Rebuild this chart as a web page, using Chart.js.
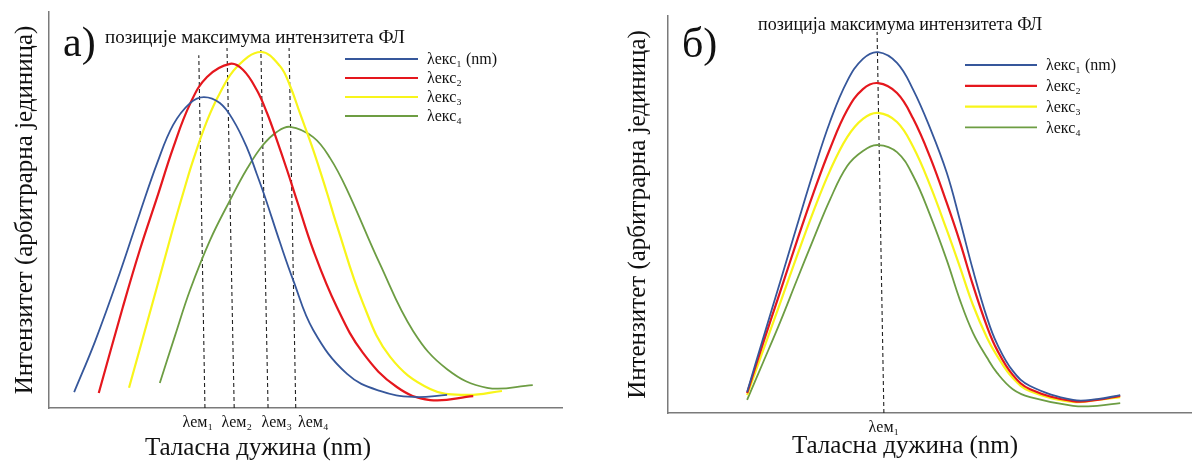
<!DOCTYPE html>
<html>
<head>
<meta charset="UTF-8">
<title>Позиције максимума интензитета ФЛ</title>
<script src="https://cdn.jsdelivr.net/npm/chart.js"></script>
<style>
  body { margin: 0; background: #fff; }
  .panel { position: absolute; top: 0; width: 596px; height: 461px; }
</style>
</head>
<body>
<div class="panel" style="left:0"><canvas id="chartA" width="596" height="461"></canvas></div>
<div class="panel" style="left:596px"><canvas id="chartB" width="596" height="461"></canvas></div>

<script>
// ---- подаци (а): емисионе криве помјерене са ексцитацијом ----
const xA1 = [4.9, 9.0, 13.8, 17.7, 21.1, 24.2, 27.5, 30.2, 33.3, 35.9, 38.6, 40.5, 42.1, 45.0, 47.6, 51.5, 58.1, 64.5, 71.0, 77.6];
const yA1 = [4.0, 16.9, 34.1, 49.2, 61.9, 71.5, 77.0, 78.5, 77.0, 72.7, 65.7, 59.1, 53.3, 41.9, 32.3, 19.7, 8.6, 4.3, 2.8, 3.3];
const xA2 = [9.7, 14.4, 17.7, 21.1, 24.2, 27.5, 30.8, 35.3, 37.8, 40.5, 42.5, 44.4, 46.4, 48.3, 51.5, 56.1, 61.2, 67.8, 74.3, 82.7];
const yA2 = [3.8, 25.5, 39.9, 53.3, 65.7, 76.8, 83.6, 86.9, 85.4, 80.3, 74.5, 67.7, 60.1, 52.5, 39.9, 25.5, 13.9, 5.3, 2.0, 3.0];
const xA3 = [15.6, 21.1, 24.2, 26.5, 28.1, 30.8, 33.3, 36.6, 41.3, 45.0, 47.0, 48.9, 51.5, 54.2, 56.1, 61.2, 66.5, 74.3, 81.5, 88.3];
const yA3 = [5.1, 30.8, 45.5, 55.8, 62.6, 72.5, 79.5, 86.1, 89.9, 86.4, 81.3, 74.5, 65.2, 54.3, 46.2, 26.5, 12.9, 4.8, 3.3, 4.3];
const xA4 = [21.6, 24.6, 27.5, 31.4, 35.3, 38.6, 41.7, 44.4, 47.0, 51.5, 54.8, 58.1, 64.5, 71.0, 77.6, 85.4, 94.3];
const yA4 = [6.3, 18.4, 29.8, 42.4, 52.5, 60.4, 66.4, 69.7, 71.0, 68.4, 63.1, 55.1, 36.4, 19.4, 9.8, 5.1, 5.8];

// испрекидане линије за λем (дно на оси, врх изнад криве)
const emBaseA = [30.4, 36.1, 42.7, 48.1];
const emTopXA = [29.2, 34.7, 41.3, 46.8];
const emTopYA = [89.1, 90.9, 90.4, 90.9];
const emTickA = [29.0, 36.6, 44.4, 51.5];
const emLabelsA = ['λем₁', 'λем₂', 'λем₃', 'λем₄'];

// ---- подаци (б): иста позиција, различит интензитет ----
const xB = [15.1, 18.1, 21.4, 24.6, 27.7, 30.9, 34.2, 37.2, 40.1, 43.7, 46.8, 50.0, 53.2, 55.7, 58.2, 60.9, 62.8, 65.8, 69.1, 77.3, 81.9, 86.3];
const yB1 = [5.3, 18.6, 33.0, 47.1, 60.5, 73.3, 83.6, 89.2, 90.9, 88.2, 81.4, 71.8, 60.5, 48.6, 36.0, 23.9, 17.4, 10.6, 6.8, 3.3, 3.5, 4.5];
const yB2 = [5.0, 17.4, 30.5, 43.3, 55.2, 66.5, 76.3, 81.6, 83.1, 80.6, 74.1, 64.5, 52.9, 43.1, 32.2, 21.7, 15.9, 9.6, 6.0, 3.0, 3.3, 4.3];
const yB3 = [4.5, 15.6, 27.7, 39.5, 50.6, 61.0, 69.5, 74.1, 75.6, 73.3, 67.0, 57.4, 46.1, 36.8, 27.2, 18.9, 14.4, 8.8, 5.5, 2.8, 3.3, 4.0];
const yB4 = [3.3, 12.6, 22.9, 33.5, 43.6, 53.7, 62.2, 66.0, 67.5, 65.7, 59.7, 49.9, 38.5, 28.5, 20.2, 13.9, 10.1, 6.0, 4.0, 1.8, 1.8, 2.5];
const emBaseB = [41.2];
const emTopXB = [39.9];
const emTopYB = [96.0];
const emTickB = [41.2];
const emLabelsB = ['λем₁'];

const seriesLabels = ['λекс₁ (nm)', 'λекс₂', 'λекс₃', 'λекс₄'];
const colors = ['#36579b', '#e5171d', '#f8f51a', '#6d9d43'];
const widths = [1.8, 2.2, 2.2, 1.8];

const SERIF = "'Liberation Serif', 'DejaVu Serif', serif";

function pts(xs, ys) {
    return xs.map((x, i) => ({ x: x, y: ys[i] }));
}

function curveSets(xsList, ysList) {
    return ysList.map((ys, i) => ({
        label: seriesLabels[i],
        data: pts(xsList[i], ys),
        borderColor: colors[i],
        borderWidth: widths[i],
        pointRadius: 0,
        fill: false,
        tension: 0.4
    }));
}

function dashSets(base, topX, topY) {
    return base.map((b, i) => ({
        label: '',
        data: [{ x: b, y: 0 }, { x: topX[i], y: topY[i] }],
        borderColor: '#222',
        borderWidth: 1.1,
        borderDash: [4, 3],
        pointRadius: 0,
        fill: false
    }));
}

// натписи и легенда које Chart.js не поставља тамо где треба
const annotate = {
    id: 'annotate',
    afterDraw(chart, args, opts) {
        const ctx = chart.ctx;
        ctx.save();
        ctx.fillStyle = '#111';
        ctx.textBaseline = 'alphabetic';
        opts.texts.forEach(t => {
            ctx.font = t.font;
            ctx.textAlign = t.align || 'left';
            ctx.fillText(t.text, t.x, t.y);
        });
        const lg = opts.legend;
        ctx.font = lg.font;
        ctx.textAlign = 'left';
        ctx.textBaseline = 'middle';
        let row = 0;
        chart.data.datasets.forEach(ds => {
            if (!ds.label) return;
            const y = lg.y0 + row * lg.dy;
            ctx.strokeStyle = ds.borderColor;
            ctx.lineWidth = ds.borderWidth;
            ctx.beginPath();
            ctx.moveTo(lg.x0, y);
            ctx.lineTo(lg.x0 + lg.len, y);
            ctx.stroke();
            ctx.fillText(ds.label, lg.x0 + lg.len + lg.gap, y + 1);
            row++;
        });
        ctx.restore();
    }
};

function makeChart(id, datasets, ticksAt, tickLabels, box, texts, legend) {
    return new Chart(document.getElementById(id), {
        type: 'line',
        data: { datasets: datasets },
        options: {
            responsive: false,
            animation: false,
            layout: { padding: { left: 0, top: box.top, right: box.right, bottom: 0 } },
            plugins: {
                legend: { display: false },
                tooltip: { enabled: false },
                annotate: { texts: texts, legend: legend }
            },
            scales: {
                x: {
                    type: 'linear',
                    min: 0,
                    max: 100,
                    grid: { display: false, drawTicks: false },
                    border: { display: true, color: '#7a7a7a', width: 1.5 },
                    afterBuildTicks: axis => { axis.ticks = ticksAt.map(v => ({ value: v })); },
                    afterFit: s => { s.height = box.xh; },
                    ticks: {
                        autoSkip: false,
                        maxRotation: 0,
                        padding: 5,
                        color: '#111',
                        font: { family: SERIF, size: 16 },
                        callback: (v, i) => tickLabels[i]
                    }
                },
                y: {
                    min: 0,
                    max: 100,
                    grid: { display: false, drawTicks: false },
                    border: { display: true, color: '#7a7a7a', width: 1.5 },
                    ticks: { display: false },
                    afterFit: s => { s.width = box.yw; },
                    title: {
                        display: true,
                        text: 'Интензитет (арбитрарна јединица)',
                        color: '#111',
                        font: { family: SERIF, size: 25 },
                        padding: { top: box.titlePad, bottom: 0 }
                    }
                }
            }
        },
        plugins: [annotate]
    });
}

makeChart('chartA',
    curveSets([xA1, xA2, xA3, xA4], [yA1, yA2, yA3, yA4]).concat(dashSets(emBaseA, emTopXA, emTopYA)),
    emTickA, emLabelsA,
    { top: 12, right: 34, xh: 53, yw: 49, titlePad: 10 },
    [
        { text: 'а)', x: 63, y: 56, font: '42px ' + SERIF },
        { text: 'позиције максимума интензитета ФЛ', x: 105, y: 43, font: '19px ' + SERIF },
        { text: 'Таласна дужина (nm)', x: 258, y: 455, font: '25px ' + SERIF, align: 'center' }
    ],
    { x0: 345, y0: 59, dy: 19, len: 73, gap: 9, font: '16px ' + SERIF }
);

makeChart('chartB',
    curveSets([xB, xB, xB, xB], [yB1, yB2, yB3, yB4]).concat(dashSets(emBaseB, emTopXB, emTopYB)),
    emTickB, emLabelsB,
    { top: 16, right: 0, xh: 48, yw: 72, titlePad: 27 },
    [
        { text: 'б)', x: 86, y: 57, font: '42px ' + SERIF },
        { text: 'позиција максимума интензитета ФЛ', x: 162, y: 30, font: '18px ' + SERIF },
        { text: 'Таласна дужина (nm)', x: 309, y: 453, font: '25px ' + SERIF, align: 'center' }
    ],
    { x0: 369, y0: 65, dy: 20.8, len: 72, gap: 9, font: '16px ' + SERIF }
);
</script>
</body>
</html>
